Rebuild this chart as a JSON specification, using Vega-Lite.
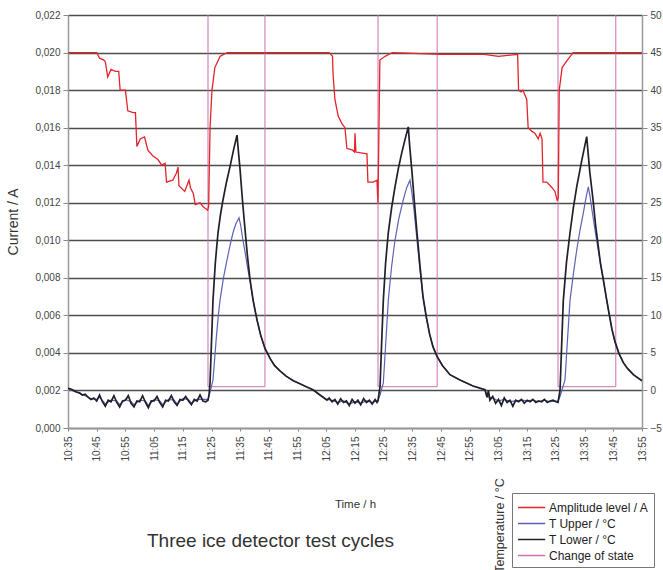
{
  "$schema": "https://vega.github.io/schema/vega-lite/v6.json",
  "width": 574,
  "height": 413,
  "autosize": {"type": "none"},
  "padding": {"left": 68, "top": 15, "right": 21, "bottom": 142},
  "title": {
    "text": "Three ice detector test cycles",
    "orient": "bottom",
    "anchor": "start",
    "offset": -40,
    "dx": 140,
    "fontSize": 19,
    "fontWeight": "normal",
    "color": "#333"
  },
  "data": {
    "values": [
      {"time": "2012-01-01T10:35:00", "series": "Change of state", "value": 0.024},
      {"time": "2012-01-01T11:23:47", "series": "Change of state", "value": 0.0022},
      {"time": "2012-01-01T11:43:38", "series": "Change of state", "value": 0.024},
      {"time": "2012-01-01T12:23:01", "series": "Change of state", "value": 0.0022},
      {"time": "2012-01-01T12:43:38", "series": "Change of state", "value": 0.024},
      {"time": "2012-01-01T13:25:44", "series": "Change of state", "value": 0.0022},
      {"time": "2012-01-01T13:45:52", "series": "Change of state", "value": 0.024},
      {"time": "2012-01-01T13:55:00", "series": "Change of state", "value": 0.024},

      {"time": "2012-01-01T10:35:00", "series": "Amplitude level / A", "value": 0.0200},
      {"time": "2012-01-01T10:45:00", "series": "Amplitude level / A", "value": 0.0200},
      {"time": "2012-01-01T10:46:00", "series": "Amplitude level / A", "value": 0.0197},
      {"time": "2012-01-01T10:47:30", "series": "Amplitude level / A", "value": 0.0196},
      {"time": "2012-01-01T10:48:00", "series": "Amplitude level / A", "value": 0.0195},
      {"time": "2012-01-01T10:48:50", "series": "Amplitude level / A", "value": 0.0187},
      {"time": "2012-01-01T10:50:00", "series": "Amplitude level / A", "value": 0.0191},
      {"time": "2012-01-01T10:51:30", "series": "Amplitude level / A", "value": 0.0190},
      {"time": "2012-01-01T10:52:40", "series": "Amplitude level / A", "value": 0.0190},
      {"time": "2012-01-01T10:53:10", "series": "Amplitude level / A", "value": 0.0180},
      {"time": "2012-01-01T10:55:00", "series": "Amplitude level / A", "value": 0.0180},
      {"time": "2012-01-01T10:55:50", "series": "Amplitude level / A", "value": 0.0169},
      {"time": "2012-01-01T10:57:40", "series": "Amplitude level / A", "value": 0.0168},
      {"time": "2012-01-01T10:58:30", "series": "Amplitude level / A", "value": 0.0168},
      {"time": "2012-01-01T10:59:00", "series": "Amplitude level / A", "value": 0.0150},
      {"time": "2012-01-01T11:00:10", "series": "Amplitude level / A", "value": 0.0154},
      {"time": "2012-01-01T11:01:40", "series": "Amplitude level / A", "value": 0.0155},
      {"time": "2012-01-01T11:02:50", "series": "Amplitude level / A", "value": 0.0148},
      {"time": "2012-01-01T11:04:30", "series": "Amplitude level / A", "value": 0.0145},
      {"time": "2012-01-01T11:06:20", "series": "Amplitude level / A", "value": 0.0143},
      {"time": "2012-01-01T11:07:40", "series": "Amplitude level / A", "value": 0.0140},
      {"time": "2012-01-01T11:08:50", "series": "Amplitude level / A", "value": 0.0141},
      {"time": "2012-01-01T11:09:20", "series": "Amplitude level / A", "value": 0.0131},
      {"time": "2012-01-01T11:11:30", "series": "Amplitude level / A", "value": 0.0132},
      {"time": "2012-01-01T11:12:50", "series": "Amplitude level / A", "value": 0.0136},
      {"time": "2012-01-01T11:13:20", "series": "Amplitude level / A", "value": 0.0139},
      {"time": "2012-01-01T11:13:40", "series": "Amplitude level / A", "value": 0.0129},
      {"time": "2012-01-01T11:15:40", "series": "Amplitude level / A", "value": 0.0126},
      {"time": "2012-01-01T11:17:10", "series": "Amplitude level / A", "value": 0.0132},
      {"time": "2012-01-01T11:17:40", "series": "Amplitude level / A", "value": 0.0128},
      {"time": "2012-01-01T11:18:40", "series": "Amplitude level / A", "value": 0.0125},
      {"time": "2012-01-01T11:19:20", "series": "Amplitude level / A", "value": 0.0119},
      {"time": "2012-01-01T11:21:00", "series": "Amplitude level / A", "value": 0.0120},
      {"time": "2012-01-01T11:22:00", "series": "Amplitude level / A", "value": 0.0118},
      {"time": "2012-01-01T11:23:40", "series": "Amplitude level / A", "value": 0.0116},
      {"time": "2012-01-01T11:24:00", "series": "Amplitude level / A", "value": 0.0118},
      {"time": "2012-01-01T11:24:30", "series": "Amplitude level / A", "value": 0.0160},
      {"time": "2012-01-01T11:25:10", "series": "Amplitude level / A", "value": 0.0180},
      {"time": "2012-01-01T11:26:10", "series": "Amplitude level / A", "value": 0.0192},
      {"time": "2012-01-01T11:28:00", "series": "Amplitude level / A", "value": 0.0198},
      {"time": "2012-01-01T11:30:30", "series": "Amplitude level / A", "value": 0.0200},
      {"time": "2012-01-01T12:06:00", "series": "Amplitude level / A", "value": 0.0200},
      {"time": "2012-01-01T12:07:10", "series": "Amplitude level / A", "value": 0.0198},
      {"time": "2012-01-01T12:07:20", "series": "Amplitude level / A", "value": 0.0189},
      {"time": "2012-01-01T12:08:00", "series": "Amplitude level / A", "value": 0.0175},
      {"time": "2012-01-01T12:09:10", "series": "Amplitude level / A", "value": 0.0166},
      {"time": "2012-01-01T12:10:30", "series": "Amplitude level / A", "value": 0.0162},
      {"time": "2012-01-01T12:11:30", "series": "Amplitude level / A", "value": 0.0160},
      {"time": "2012-01-01T12:12:10", "series": "Amplitude level / A", "value": 0.0149},
      {"time": "2012-01-01T12:14:10", "series": "Amplitude level / A", "value": 0.0148},
      {"time": "2012-01-01T12:14:50", "series": "Amplitude level / A", "value": 0.0147},
      {"time": "2012-01-01T12:15:00", "series": "Amplitude level / A", "value": 0.0157},
      {"time": "2012-01-01T12:15:20", "series": "Amplitude level / A", "value": 0.0147},
      {"time": "2012-01-01T12:19:10", "series": "Amplitude level / A", "value": 0.0146},
      {"time": "2012-01-01T12:19:30", "series": "Amplitude level / A", "value": 0.0131},
      {"time": "2012-01-01T12:21:20", "series": "Amplitude level / A", "value": 0.0131},
      {"time": "2012-01-01T12:22:40", "series": "Amplitude level / A", "value": 0.0132},
      {"time": "2012-01-01T12:22:50", "series": "Amplitude level / A", "value": 0.0125},
      {"time": "2012-01-01T12:23:00", "series": "Amplitude level / A", "value": 0.0120},
      {"time": "2012-01-01T12:23:40", "series": "Amplitude level / A", "value": 0.0196},
      {"time": "2012-01-01T12:25:30", "series": "Amplitude level / A", "value": 0.0198},
      {"time": "2012-01-01T12:28:00", "series": "Amplitude level / A", "value": 0.0200},
      {"time": "2012-01-01T12:45:00", "series": "Amplitude level / A", "value": 0.0199},
      {"time": "2012-01-01T13:00:00", "series": "Amplitude level / A", "value": 0.0199},
      {"time": "2012-01-01T13:05:00", "series": "Amplitude level / A", "value": 0.0198},
      {"time": "2012-01-01T13:11:40", "series": "Amplitude level / A", "value": 0.0199},
      {"time": "2012-01-01T13:12:00", "series": "Amplitude level / A", "value": 0.0180},
      {"time": "2012-01-01T13:12:50", "series": "Amplitude level / A", "value": 0.0179},
      {"time": "2012-01-01T13:13:30", "series": "Amplitude level / A", "value": 0.0180},
      {"time": "2012-01-01T13:14:50", "series": "Amplitude level / A", "value": 0.0175},
      {"time": "2012-01-01T13:15:20", "series": "Amplitude level / A", "value": 0.0160},
      {"time": "2012-01-01T13:16:40", "series": "Amplitude level / A", "value": 0.0158},
      {"time": "2012-01-01T13:17:40", "series": "Amplitude level / A", "value": 0.0157},
      {"time": "2012-01-01T13:18:50", "series": "Amplitude level / A", "value": 0.0154},
      {"time": "2012-01-01T13:19:30", "series": "Amplitude level / A", "value": 0.0157},
      {"time": "2012-01-01T13:20:10", "series": "Amplitude level / A", "value": 0.0154},
      {"time": "2012-01-01T13:20:30", "series": "Amplitude level / A", "value": 0.0131},
      {"time": "2012-01-01T13:21:50", "series": "Amplitude level / A", "value": 0.0131},
      {"time": "2012-01-01T13:23:40", "series": "Amplitude level / A", "value": 0.0128},
      {"time": "2012-01-01T13:24:40", "series": "Amplitude level / A", "value": 0.0126},
      {"time": "2012-01-01T13:25:30", "series": "Amplitude level / A", "value": 0.0121},
      {"time": "2012-01-01T13:25:50", "series": "Amplitude level / A", "value": 0.0123},
      {"time": "2012-01-01T13:26:10", "series": "Amplitude level / A", "value": 0.0180},
      {"time": "2012-01-01T13:27:10", "series": "Amplitude level / A", "value": 0.0192},
      {"time": "2012-01-01T13:29:00", "series": "Amplitude level / A", "value": 0.0196},
      {"time": "2012-01-01T13:31:00", "series": "Amplitude level / A", "value": 0.0200},
      {"time": "2012-01-01T13:55:00", "series": "Amplitude level / A", "value": 0.0200},

      {"time": "2012-01-01T10:35:00", "series": "T Upper / °C", "value": 0.2},
      {"time": "2012-01-01T10:37:00", "series": "T Upper / °C", "value": -0.1},
      {"time": "2012-01-01T10:39:00", "series": "T Upper / °C", "value": -0.4},
      {"time": "2012-01-01T10:41:00", "series": "T Upper / °C", "value": -0.7},
      {"time": "2012-01-01T10:43:00", "series": "T Upper / °C", "value": -1.1},
      {"time": "2012-01-01T10:45:00", "series": "T Upper / °C", "value": -1.2},
      {"time": "2012-01-01T10:46:00", "series": "T Upper / °C", "value": -0.9},
      {"time": "2012-01-01T10:48:00", "series": "T Upper / °C", "value": -1.8},
      {"time": "2012-01-01T10:50:00", "series": "T Upper / °C", "value": -1.3},
      {"time": "2012-01-01T10:52:00", "series": "T Upper / °C", "value": -1.4},
      {"time": "2012-01-01T10:53:00", "series": "T Upper / °C", "value": -1.9},
      {"time": "2012-01-01T10:55:00", "series": "T Upper / °C", "value": -1.2},
      {"time": "2012-01-01T10:57:00", "series": "T Upper / °C", "value": -1.5},
      {"time": "2012-01-01T10:58:00", "series": "T Upper / °C", "value": -1.9},
      {"time": "2012-01-01T11:00:00", "series": "T Upper / °C", "value": -1.3},
      {"time": "2012-01-01T11:02:00", "series": "T Upper / °C", "value": -1.4},
      {"time": "2012-01-01T11:03:00", "series": "T Upper / °C", "value": -2.0},
      {"time": "2012-01-01T11:05:00", "series": "T Upper / °C", "value": -1.2},
      {"time": "2012-01-01T11:07:00", "series": "T Upper / °C", "value": -1.4},
      {"time": "2012-01-01T11:08:00", "series": "T Upper / °C", "value": -1.9},
      {"time": "2012-01-01T11:10:00", "series": "T Upper / °C", "value": -1.2},
      {"time": "2012-01-01T11:12:00", "series": "T Upper / °C", "value": -1.3},
      {"time": "2012-01-01T11:13:00", "series": "T Upper / °C", "value": -1.8},
      {"time": "2012-01-01T11:15:00", "series": "T Upper / °C", "value": -1.1},
      {"time": "2012-01-01T11:17:00", "series": "T Upper / °C", "value": -1.2},
      {"time": "2012-01-01T11:18:00", "series": "T Upper / °C", "value": -1.7},
      {"time": "2012-01-01T11:20:00", "series": "T Upper / °C", "value": -1.2},
      {"time": "2012-01-01T11:22:00", "series": "T Upper / °C", "value": -1.2},
      {"time": "2012-01-01T11:23:47", "series": "T Upper / °C", "value": -1.2},
      {"time": "2012-01-01T11:24:40", "series": "T Upper / °C", "value": 0.0},
      {"time": "2012-01-01T11:25:31", "series": "T Upper / °C", "value": 1.4},
      {"time": "2012-01-01T11:26:10", "series": "T Upper / °C", "value": 4.5},
      {"time": "2012-01-01T11:26:40", "series": "T Upper / °C", "value": 7.0},
      {"time": "2012-01-01T11:27:20", "series": "T Upper / °C", "value": 9.8},
      {"time": "2012-01-01T11:27:58", "series": "T Upper / °C", "value": 12.0},
      {"time": "2012-01-01T11:29:10", "series": "T Upper / °C", "value": 15.0},
      {"time": "2012-01-01T11:30:24", "series": "T Upper / °C", "value": 17.4},
      {"time": "2012-01-01T11:31:30", "series": "T Upper / °C", "value": 19.4},
      {"time": "2012-01-01T11:32:29", "series": "T Upper / °C", "value": 21.0},
      {"time": "2012-01-01T11:33:30", "series": "T Upper / °C", "value": 22.2},
      {"time": "2012-01-01T11:34:35", "series": "T Upper / °C", "value": 23.0},
      {"time": "2012-01-01T11:35:10", "series": "T Upper / °C", "value": 22.0},
      {"time": "2012-01-01T11:35:45", "series": "T Upper / °C", "value": 20.5},
      {"time": "2012-01-01T11:36:40", "series": "T Upper / °C", "value": 18.5},
      {"time": "2012-01-01T11:37:30", "series": "T Upper / °C", "value": 16.5},
      {"time": "2012-01-01T11:38:25", "series": "T Upper / °C", "value": 14.6},
      {"time": "2012-01-01T11:39:30", "series": "T Upper / °C", "value": 12.0},
      {"time": "2012-01-01T11:40:51", "series": "T Upper / °C", "value": 9.4},
      {"time": "2012-01-01T11:42:10", "series": "T Upper / °C", "value": 7.3},
      {"time": "2012-01-01T11:43:38", "series": "T Upper / °C", "value": 5.6},
      {"time": "2012-01-01T11:45:30", "series": "T Upper / °C", "value": 4.2},
      {"time": "2012-01-01T11:47:00", "series": "T Upper / °C", "value": 3.3},
      {"time": "2012-01-01T11:48:52", "series": "T Upper / °C", "value": 2.6},
      {"time": "2012-01-01T11:51:00", "series": "T Upper / °C", "value": 1.9},
      {"time": "2012-01-01T11:53:30", "series": "T Upper / °C", "value": 1.3},
      {"time": "2012-01-01T11:55:50", "series": "T Upper / °C", "value": 0.9},
      {"time": "2012-01-01T11:58:00", "series": "T Upper / °C", "value": 0.5},
      {"time": "2012-01-01T12:00:22", "series": "T Upper / °C", "value": 0.1},
      {"time": "2012-01-01T12:02:48", "series": "T Upper / °C", "value": -0.6},
      {"time": "2012-01-01T12:05:14", "series": "T Upper / °C", "value": -1.2},
      {"time": "2012-01-01T12:07:00", "series": "T Upper / °C", "value": -1.3},
      {"time": "2012-01-01T12:09:00", "series": "T Upper / °C", "value": -1.6},
      {"time": "2012-01-01T12:11:00", "series": "T Upper / °C", "value": -1.4},
      {"time": "2012-01-01T12:13:00", "series": "T Upper / °C", "value": -1.8},
      {"time": "2012-01-01T12:15:00", "series": "T Upper / °C", "value": -1.5},
      {"time": "2012-01-01T12:17:00", "series": "T Upper / °C", "value": -1.7},
      {"time": "2012-01-01T12:19:00", "series": "T Upper / °C", "value": -1.4},
      {"time": "2012-01-01T12:21:00", "series": "T Upper / °C", "value": -1.6},
      {"time": "2012-01-01T12:23:01", "series": "T Upper / °C", "value": -1.3},
      {"time": "2012-01-01T12:23:43", "series": "T Upper / °C", "value": -0.6},
      {"time": "2012-01-01T12:24:52", "series": "T Upper / °C", "value": 1.0},
      {"time": "2012-01-01T12:25:40", "series": "T Upper / °C", "value": 6.0},
      {"time": "2012-01-01T12:26:36", "series": "T Upper / °C", "value": 12.0},
      {"time": "2012-01-01T12:27:45", "series": "T Upper / °C", "value": 16.5},
      {"time": "2012-01-01T12:28:56", "series": "T Upper / °C", "value": 20.0},
      {"time": "2012-01-01T12:30:20", "series": "T Upper / °C", "value": 23.0},
      {"time": "2012-01-01T12:31:50", "series": "T Upper / °C", "value": 25.4},
      {"time": "2012-01-01T12:33:00", "series": "T Upper / °C", "value": 27.0},
      {"time": "2012-01-01T12:34:10", "series": "T Upper / °C", "value": 28.0},
      {"time": "2012-01-01T12:34:52", "series": "T Upper / °C", "value": 26.2},
      {"time": "2012-01-01T12:35:34", "series": "T Upper / °C", "value": 24.0},
      {"time": "2012-01-01T12:36:36", "series": "T Upper / °C", "value": 20.0},
      {"time": "2012-01-01T12:37:40", "series": "T Upper / °C", "value": 16.0},
      {"time": "2012-01-01T12:38:41", "series": "T Upper / °C", "value": 12.5},
      {"time": "2012-01-01T12:39:50", "series": "T Upper / °C", "value": 9.8},
      {"time": "2012-01-01T12:41:00", "series": "T Upper / °C", "value": 7.5},
      {"time": "2012-01-01T12:42:11", "series": "T Upper / °C", "value": 5.8},
      {"time": "2012-01-01T12:43:38", "series": "T Upper / °C", "value": 4.5},
      {"time": "2012-01-01T12:45:30", "series": "T Upper / °C", "value": 3.3},
      {"time": "2012-01-01T12:48:06", "series": "T Upper / °C", "value": 2.1},
      {"time": "2012-01-01T12:51:35", "series": "T Upper / °C", "value": 1.4},
      {"time": "2012-01-01T12:56:07", "series": "T Upper / °C", "value": 0.6},
      {"time": "2012-01-01T13:00:17", "series": "T Upper / °C", "value": 0.1},
      {"time": "2012-01-01T13:01:00", "series": "T Upper / °C", "value": -0.8},
      {"time": "2012-01-01T13:03:00", "series": "T Upper / °C", "value": -1.0},
      {"time": "2012-01-01T13:05:00", "series": "T Upper / °C", "value": -1.4},
      {"time": "2012-01-01T13:07:00", "series": "T Upper / °C", "value": -1.2},
      {"time": "2012-01-01T13:09:00", "series": "T Upper / °C", "value": -1.5},
      {"time": "2012-01-01T13:11:00", "series": "T Upper / °C", "value": -1.4},
      {"time": "2012-01-01T13:13:00", "series": "T Upper / °C", "value": -1.3},
      {"time": "2012-01-01T13:15:00", "series": "T Upper / °C", "value": -1.4},
      {"time": "2012-01-01T13:17:00", "series": "T Upper / °C", "value": -1.3},
      {"time": "2012-01-01T13:19:00", "series": "T Upper / °C", "value": -1.5},
      {"time": "2012-01-01T13:21:00", "series": "T Upper / °C", "value": -1.3},
      {"time": "2012-01-01T13:23:00", "series": "T Upper / °C", "value": -1.5},
      {"time": "2012-01-01T13:25:44", "series": "T Upper / °C", "value": -1.4},
      {"time": "2012-01-01T13:26:26", "series": "T Upper / °C", "value": -0.8},
      {"time": "2012-01-01T13:28:10", "series": "T Upper / °C", "value": 1.4},
      {"time": "2012-01-01T13:29:00", "series": "T Upper / °C", "value": 6.5},
      {"time": "2012-01-01T13:29:55", "series": "T Upper / °C", "value": 12.0},
      {"time": "2012-01-01T13:31:05", "series": "T Upper / °C", "value": 15.5},
      {"time": "2012-01-01T13:32:15", "series": "T Upper / °C", "value": 18.7},
      {"time": "2012-01-01T13:33:25", "series": "T Upper / °C", "value": 21.4},
      {"time": "2012-01-01T13:34:33", "series": "T Upper / °C", "value": 23.6},
      {"time": "2012-01-01T13:35:25", "series": "T Upper / °C", "value": 25.5},
      {"time": "2012-01-01T13:36:17", "series": "T Upper / °C", "value": 27.1},
      {"time": "2012-01-01T13:36:55", "series": "T Upper / °C", "value": 25.8},
      {"time": "2012-01-01T13:37:35", "series": "T Upper / °C", "value": 24.0},
      {"time": "2012-01-01T13:38:58", "series": "T Upper / °C", "value": 20.5},
      {"time": "2012-01-01T13:40:22", "series": "T Upper / °C", "value": 17.3},
      {"time": "2012-01-01T13:41:25", "series": "T Upper / °C", "value": 15.0},
      {"time": "2012-01-01T13:42:30", "series": "T Upper / °C", "value": 12.5},
      {"time": "2012-01-01T13:43:30", "series": "T Upper / °C", "value": 10.3},
      {"time": "2012-01-01T13:44:30", "series": "T Upper / °C", "value": 8.2},
      {"time": "2012-01-01T13:45:35", "series": "T Upper / °C", "value": 6.5},
      {"time": "2012-01-01T13:47:00", "series": "T Upper / °C", "value": 4.9},
      {"time": "2012-01-01T13:48:30", "series": "T Upper / °C", "value": 3.7},
      {"time": "2012-01-01T13:50:00", "series": "T Upper / °C", "value": 2.9},
      {"time": "2012-01-01T13:52:00", "series": "T Upper / °C", "value": 2.1},
      {"time": "2012-01-01T13:55:00", "series": "T Upper / °C", "value": 1.3},

      {"time": "2012-01-01T10:35:00", "series": "T Lower / °C", "value": 0.3},
      {"time": "2012-01-01T10:36:00", "series": "T Lower / °C", "value": 0.2},
      {"time": "2012-01-01T10:37:00", "series": "T Lower / °C", "value": 0.0},
      {"time": "2012-01-01T10:38:00", "series": "T Lower / °C", "value": -0.2},
      {"time": "2012-01-01T10:39:00", "series": "T Lower / °C", "value": -0.3},
      {"time": "2012-01-01T10:40:00", "series": "T Lower / °C", "value": -0.6},
      {"time": "2012-01-01T10:41:00", "series": "T Lower / °C", "value": -0.5},
      {"time": "2012-01-01T10:42:00", "series": "T Lower / °C", "value": -0.9},
      {"time": "2012-01-01T10:43:00", "series": "T Lower / °C", "value": -1.2},
      {"time": "2012-01-01T10:44:00", "series": "T Lower / °C", "value": -1.0},
      {"time": "2012-01-01T10:45:00", "series": "T Lower / °C", "value": -1.4},
      {"time": "2012-01-01T10:46:00", "series": "T Lower / °C", "value": -0.6},
      {"time": "2012-01-01T10:47:00", "series": "T Lower / °C", "value": -1.5},
      {"time": "2012-01-01T10:48:00", "series": "T Lower / °C", "value": -2.1},
      {"time": "2012-01-01T10:49:00", "series": "T Lower / °C", "value": -1.3},
      {"time": "2012-01-01T10:50:00", "series": "T Lower / °C", "value": -1.5},
      {"time": "2012-01-01T10:51:00", "series": "T Lower / °C", "value": -0.7},
      {"time": "2012-01-01T10:52:00", "series": "T Lower / °C", "value": -1.6},
      {"time": "2012-01-01T10:53:00", "series": "T Lower / °C", "value": -2.2},
      {"time": "2012-01-01T10:54:00", "series": "T Lower / °C", "value": -1.4},
      {"time": "2012-01-01T10:55:00", "series": "T Lower / °C", "value": -1.3},
      {"time": "2012-01-01T10:56:00", "series": "T Lower / °C", "value": -0.7},
      {"time": "2012-01-01T10:57:00", "series": "T Lower / °C", "value": -1.7},
      {"time": "2012-01-01T10:58:00", "series": "T Lower / °C", "value": -2.2},
      {"time": "2012-01-01T10:59:00", "series": "T Lower / °C", "value": -1.4},
      {"time": "2012-01-01T11:00:00", "series": "T Lower / °C", "value": -1.5},
      {"time": "2012-01-01T11:01:00", "series": "T Lower / °C", "value": -0.7},
      {"time": "2012-01-01T11:02:00", "series": "T Lower / °C", "value": -1.6},
      {"time": "2012-01-01T11:03:00", "series": "T Lower / °C", "value": -2.3},
      {"time": "2012-01-01T11:04:00", "series": "T Lower / °C", "value": -1.4},
      {"time": "2012-01-01T11:05:00", "series": "T Lower / °C", "value": -1.4},
      {"time": "2012-01-01T11:06:00", "series": "T Lower / °C", "value": -0.8},
      {"time": "2012-01-01T11:07:00", "series": "T Lower / °C", "value": -1.6},
      {"time": "2012-01-01T11:08:00", "series": "T Lower / °C", "value": -2.2},
      {"time": "2012-01-01T11:09:00", "series": "T Lower / °C", "value": -1.3},
      {"time": "2012-01-01T11:10:00", "series": "T Lower / °C", "value": -1.4},
      {"time": "2012-01-01T11:11:00", "series": "T Lower / °C", "value": -0.7},
      {"time": "2012-01-01T11:12:00", "series": "T Lower / °C", "value": -1.5},
      {"time": "2012-01-01T11:13:00", "series": "T Lower / °C", "value": -2.0},
      {"time": "2012-01-01T11:14:00", "series": "T Lower / °C", "value": -1.2},
      {"time": "2012-01-01T11:15:00", "series": "T Lower / °C", "value": -1.3},
      {"time": "2012-01-01T11:16:00", "series": "T Lower / °C", "value": -0.8},
      {"time": "2012-01-01T11:17:00", "series": "T Lower / °C", "value": -1.4},
      {"time": "2012-01-01T11:18:00", "series": "T Lower / °C", "value": -1.9},
      {"time": "2012-01-01T11:19:00", "series": "T Lower / °C", "value": -1.2},
      {"time": "2012-01-01T11:20:00", "series": "T Lower / °C", "value": -1.4},
      {"time": "2012-01-01T11:21:00", "series": "T Lower / °C", "value": -0.6},
      {"time": "2012-01-01T11:22:00", "series": "T Lower / °C", "value": -1.4},
      {"time": "2012-01-01T11:23:00", "series": "T Lower / °C", "value": -1.5},
      {"time": "2012-01-01T11:23:47", "series": "T Lower / °C", "value": -1.3},
      {"time": "2012-01-01T11:24:10", "series": "T Lower / °C", "value": -0.5},
      {"time": "2012-01-01T11:24:29", "series": "T Lower / °C", "value": 1.0},
      {"time": "2012-01-01T11:25:00", "series": "T Lower / °C", "value": 6.5},
      {"time": "2012-01-01T11:25:31", "series": "T Lower / °C", "value": 12.0},
      {"time": "2012-01-01T11:26:20", "series": "T Lower / °C", "value": 17.0},
      {"time": "2012-01-01T11:27:16", "series": "T Lower / °C", "value": 21.0},
      {"time": "2012-01-01T11:28:10", "series": "T Lower / °C", "value": 23.5},
      {"time": "2012-01-01T11:29:01", "series": "T Lower / °C", "value": 25.4},
      {"time": "2012-01-01T11:30:15", "series": "T Lower / °C", "value": 27.8},
      {"time": "2012-01-01T11:31:27", "series": "T Lower / °C", "value": 29.8},
      {"time": "2012-01-01T11:32:40", "series": "T Lower / °C", "value": 32.0},
      {"time": "2012-01-01T11:33:53", "series": "T Lower / °C", "value": 34.0},
      {"time": "2012-01-01T11:34:23", "series": "T Lower / °C", "value": 31.8},
      {"time": "2012-01-01T11:34:56", "series": "T Lower / °C", "value": 29.5},
      {"time": "2012-01-01T11:35:45", "series": "T Lower / °C", "value": 25.5},
      {"time": "2012-01-01T11:36:40", "series": "T Lower / °C", "value": 21.5},
      {"time": "2012-01-01T11:37:30", "series": "T Lower / °C", "value": 18.0},
      {"time": "2012-01-01T11:38:25", "series": "T Lower / °C", "value": 14.8},
      {"time": "2012-01-01T11:39:30", "series": "T Lower / °C", "value": 12.0},
      {"time": "2012-01-01T11:40:51", "series": "T Lower / °C", "value": 9.4},
      {"time": "2012-01-01T11:42:10", "series": "T Lower / °C", "value": 7.3},
      {"time": "2012-01-01T11:43:38", "series": "T Lower / °C", "value": 5.6},
      {"time": "2012-01-01T11:45:30", "series": "T Lower / °C", "value": 4.2},
      {"time": "2012-01-01T11:47:00", "series": "T Lower / °C", "value": 3.3},
      {"time": "2012-01-01T11:48:52", "series": "T Lower / °C", "value": 2.6},
      {"time": "2012-01-01T11:51:00", "series": "T Lower / °C", "value": 1.9},
      {"time": "2012-01-01T11:53:30", "series": "T Lower / °C", "value": 1.3},
      {"time": "2012-01-01T11:55:50", "series": "T Lower / °C", "value": 0.9},
      {"time": "2012-01-01T11:58:00", "series": "T Lower / °C", "value": 0.5},
      {"time": "2012-01-01T12:00:22", "series": "T Lower / °C", "value": 0.1},
      {"time": "2012-01-01T12:02:48", "series": "T Lower / °C", "value": -0.6},
      {"time": "2012-01-01T12:05:14", "series": "T Lower / °C", "value": -1.3},
      {"time": "2012-01-01T12:06:00", "series": "T Lower / °C", "value": -1.0},
      {"time": "2012-01-01T12:07:00", "series": "T Lower / °C", "value": -1.5},
      {"time": "2012-01-01T12:08:00", "series": "T Lower / °C", "value": -1.2},
      {"time": "2012-01-01T12:09:00", "series": "T Lower / °C", "value": -1.8},
      {"time": "2012-01-01T12:10:00", "series": "T Lower / °C", "value": -1.1},
      {"time": "2012-01-01T12:11:00", "series": "T Lower / °C", "value": -1.6},
      {"time": "2012-01-01T12:12:00", "series": "T Lower / °C", "value": -1.4},
      {"time": "2012-01-01T12:13:00", "series": "T Lower / °C", "value": -2.0},
      {"time": "2012-01-01T12:14:00", "series": "T Lower / °C", "value": -1.2},
      {"time": "2012-01-01T12:15:00", "series": "T Lower / °C", "value": -1.7},
      {"time": "2012-01-01T12:16:00", "series": "T Lower / °C", "value": -1.3},
      {"time": "2012-01-01T12:17:00", "series": "T Lower / °C", "value": -1.9},
      {"time": "2012-01-01T12:18:00", "series": "T Lower / °C", "value": -1.1},
      {"time": "2012-01-01T12:19:00", "series": "T Lower / °C", "value": -1.6},
      {"time": "2012-01-01T12:20:00", "series": "T Lower / °C", "value": -1.3},
      {"time": "2012-01-01T12:21:00", "series": "T Lower / °C", "value": -1.8},
      {"time": "2012-01-01T12:22:00", "series": "T Lower / °C", "value": -1.2},
      {"time": "2012-01-01T12:22:40", "series": "T Lower / °C", "value": -1.6},
      {"time": "2012-01-01T12:23:01", "series": "T Lower / °C", "value": -1.4},
      {"time": "2012-01-01T12:23:20", "series": "T Lower / °C", "value": -0.5},
      {"time": "2012-01-01T12:23:43", "series": "T Lower / °C", "value": 0.5},
      {"time": "2012-01-01T12:24:15", "series": "T Lower / °C", "value": 6.0},
      {"time": "2012-01-01T12:24:52", "series": "T Lower / °C", "value": 12.0},
      {"time": "2012-01-01T12:25:40", "series": "T Lower / °C", "value": 17.0},
      {"time": "2012-01-01T12:26:36", "series": "T Lower / °C", "value": 21.0},
      {"time": "2012-01-01T12:27:45", "series": "T Lower / °C", "value": 24.3},
      {"time": "2012-01-01T12:28:56", "series": "T Lower / °C", "value": 27.1},
      {"time": "2012-01-01T12:30:05", "series": "T Lower / °C", "value": 29.5},
      {"time": "2012-01-01T12:31:16", "series": "T Lower / °C", "value": 31.6},
      {"time": "2012-01-01T12:32:25", "series": "T Lower / °C", "value": 33.4},
      {"time": "2012-01-01T12:33:34", "series": "T Lower / °C", "value": 35.1},
      {"time": "2012-01-01T12:34:00", "series": "T Lower / °C", "value": 32.8},
      {"time": "2012-01-01T12:34:52", "series": "T Lower / °C", "value": 29.0},
      {"time": "2012-01-01T12:35:45", "series": "T Lower / °C", "value": 24.8},
      {"time": "2012-01-01T12:36:36", "series": "T Lower / °C", "value": 21.0},
      {"time": "2012-01-01T12:37:40", "series": "T Lower / °C", "value": 16.5},
      {"time": "2012-01-01T12:38:41", "series": "T Lower / °C", "value": 12.5},
      {"time": "2012-01-01T12:39:50", "series": "T Lower / °C", "value": 9.8},
      {"time": "2012-01-01T12:41:00", "series": "T Lower / °C", "value": 7.5},
      {"time": "2012-01-01T12:42:11", "series": "T Lower / °C", "value": 5.8},
      {"time": "2012-01-01T12:43:38", "series": "T Lower / °C", "value": 4.5},
      {"time": "2012-01-01T12:45:30", "series": "T Lower / °C", "value": 3.3},
      {"time": "2012-01-01T12:48:06", "series": "T Lower / °C", "value": 2.1},
      {"time": "2012-01-01T12:51:35", "series": "T Lower / °C", "value": 1.4},
      {"time": "2012-01-01T12:56:07", "series": "T Lower / °C", "value": 0.6},
      {"time": "2012-01-01T13:00:17", "series": "T Lower / °C", "value": 0.1},
      {"time": "2012-01-01T13:01:00", "series": "T Lower / °C", "value": -0.9},
      {"time": "2012-01-01T13:01:30", "series": "T Lower / °C", "value": 0.0},
      {"time": "2012-01-01T13:02:00", "series": "T Lower / °C", "value": -1.3},
      {"time": "2012-01-01T13:03:00", "series": "T Lower / °C", "value": -0.8},
      {"time": "2012-01-01T13:04:00", "series": "T Lower / °C", "value": -1.7},
      {"time": "2012-01-01T13:05:00", "series": "T Lower / °C", "value": -1.2},
      {"time": "2012-01-01T13:06:00", "series": "T Lower / °C", "value": -2.0},
      {"time": "2012-01-01T13:07:00", "series": "T Lower / °C", "value": -1.0},
      {"time": "2012-01-01T13:08:00", "series": "T Lower / °C", "value": -1.6},
      {"time": "2012-01-01T13:09:00", "series": "T Lower / °C", "value": -1.3},
      {"time": "2012-01-01T13:10:00", "series": "T Lower / °C", "value": -2.1},
      {"time": "2012-01-01T13:11:00", "series": "T Lower / °C", "value": -1.3},
      {"time": "2012-01-01T13:12:00", "series": "T Lower / °C", "value": -1.5},
      {"time": "2012-01-01T13:13:00", "series": "T Lower / °C", "value": -1.2},
      {"time": "2012-01-01T13:14:00", "series": "T Lower / °C", "value": -1.7},
      {"time": "2012-01-01T13:15:00", "series": "T Lower / °C", "value": -1.3},
      {"time": "2012-01-01T13:16:00", "series": "T Lower / °C", "value": -1.5},
      {"time": "2012-01-01T13:17:00", "series": "T Lower / °C", "value": -1.2},
      {"time": "2012-01-01T13:18:00", "series": "T Lower / °C", "value": -1.6},
      {"time": "2012-01-01T13:19:00", "series": "T Lower / °C", "value": -1.4},
      {"time": "2012-01-01T13:20:00", "series": "T Lower / °C", "value": -1.5},
      {"time": "2012-01-01T13:21:00", "series": "T Lower / °C", "value": -1.2},
      {"time": "2012-01-01T13:22:00", "series": "T Lower / °C", "value": -1.6},
      {"time": "2012-01-01T13:23:00", "series": "T Lower / °C", "value": -1.4},
      {"time": "2012-01-01T13:24:00", "series": "T Lower / °C", "value": -1.3},
      {"time": "2012-01-01T13:25:00", "series": "T Lower / °C", "value": -1.5},
      {"time": "2012-01-01T13:25:44", "series": "T Lower / °C", "value": -1.6},
      {"time": "2012-01-01T13:26:05", "series": "T Lower / °C", "value": -0.8},
      {"time": "2012-01-01T13:26:26", "series": "T Lower / °C", "value": 0.0},
      {"time": "2012-01-01T13:27:00", "series": "T Lower / °C", "value": 6.0},
      {"time": "2012-01-01T13:27:35", "series": "T Lower / °C", "value": 12.0},
      {"time": "2012-01-01T13:28:40", "series": "T Lower / °C", "value": 17.0},
      {"time": "2012-01-01T13:29:55", "series": "T Lower / °C", "value": 21.0},
      {"time": "2012-01-01T13:31:05", "series": "T Lower / °C", "value": 24.3},
      {"time": "2012-01-01T13:32:15", "series": "T Lower / °C", "value": 27.1},
      {"time": "2012-01-01T13:34:00", "series": "T Lower / °C", "value": 30.6},
      {"time": "2012-01-01T13:35:44", "series": "T Lower / °C", "value": 33.8},
      {"time": "2012-01-01T13:36:15", "series": "T Lower / °C", "value": 31.5},
      {"time": "2012-01-01T13:36:50", "series": "T Lower / °C", "value": 29.0},
      {"time": "2012-01-01T13:37:56", "series": "T Lower / °C", "value": 25.4},
      {"time": "2012-01-01T13:38:50", "series": "T Lower / °C", "value": 22.0},
      {"time": "2012-01-01T13:39:40", "series": "T Lower / °C", "value": 19.5},
      {"time": "2012-01-01T13:40:30", "series": "T Lower / °C", "value": 17.0},
      {"time": "2012-01-01T13:41:25", "series": "T Lower / °C", "value": 15.0},
      {"time": "2012-01-01T13:42:30", "series": "T Lower / °C", "value": 12.5},
      {"time": "2012-01-01T13:43:30", "series": "T Lower / °C", "value": 10.3},
      {"time": "2012-01-01T13:44:30", "series": "T Lower / °C", "value": 8.2},
      {"time": "2012-01-01T13:45:35", "series": "T Lower / °C", "value": 6.5},
      {"time": "2012-01-01T13:47:00", "series": "T Lower / °C", "value": 4.9},
      {"time": "2012-01-01T13:48:30", "series": "T Lower / °C", "value": 3.7},
      {"time": "2012-01-01T13:50:00", "series": "T Lower / °C", "value": 2.9},
      {"time": "2012-01-01T13:52:00", "series": "T Lower / °C", "value": 2.1},
      {"time": "2012-01-01T13:55:00", "series": "T Lower / °C", "value": 1.3}
    ]
  },
  "encoding": {
    "x": {
      "field": "time",
      "type": "temporal",
      "scale": {
        "domain": [
          {"year": 2012, "month": 1, "date": 1, "hours": 10, "minutes": 35},
          {"year": 2012, "month": 1, "date": 1, "hours": 13, "minutes": 55}
        ],
        "nice": false
      },
      "axis": {
        "values": [
          {"year": 2012, "month": 1, "date": 1, "hours": 10, "minutes": 35},
          {"year": 2012, "month": 1, "date": 1, "hours": 10, "minutes": 45},
          {"year": 2012, "month": 1, "date": 1, "hours": 10, "minutes": 55},
          {"year": 2012, "month": 1, "date": 1, "hours": 11, "minutes": 5},
          {"year": 2012, "month": 1, "date": 1, "hours": 11, "minutes": 15},
          {"year": 2012, "month": 1, "date": 1, "hours": 11, "minutes": 25},
          {"year": 2012, "month": 1, "date": 1, "hours": 11, "minutes": 35},
          {"year": 2012, "month": 1, "date": 1, "hours": 11, "minutes": 45},
          {"year": 2012, "month": 1, "date": 1, "hours": 11, "minutes": 55},
          {"year": 2012, "month": 1, "date": 1, "hours": 12, "minutes": 5},
          {"year": 2012, "month": 1, "date": 1, "hours": 12, "minutes": 15},
          {"year": 2012, "month": 1, "date": 1, "hours": 12, "minutes": 25},
          {"year": 2012, "month": 1, "date": 1, "hours": 12, "minutes": 35},
          {"year": 2012, "month": 1, "date": 1, "hours": 12, "minutes": 45},
          {"year": 2012, "month": 1, "date": 1, "hours": 12, "minutes": 55},
          {"year": 2012, "month": 1, "date": 1, "hours": 13, "minutes": 5},
          {"year": 2012, "month": 1, "date": 1, "hours": 13, "minutes": 15},
          {"year": 2012, "month": 1, "date": 1, "hours": 13, "minutes": 25},
          {"year": 2012, "month": 1, "date": 1, "hours": 13, "minutes": 35},
          {"year": 2012, "month": 1, "date": 1, "hours": 13, "minutes": 45},
          {"year": 2012, "month": 1, "date": 1, "hours": 13, "minutes": 55}
        ],
        "format": "%H:%M",
        "labelAngle": 270,
        "labelOverlap": false,
        "labelFlush": false,
        "grid": false,
        "tickSize": 3,
        "tickColor": "#888",
        "domainColor": "#999",
        "domainWidth": 1.5,
        "labelFontSize": 10,
        "labelColor": "#444",
        "labelPadding": 5,
        "title": "Time / h",
        "titleFontSize": 11.5,
        "titleFontWeight": "normal",
        "titleColor": "#333",
        "titlePadding": 37
      }
    },
    "color": {
      "field": "series",
      "type": "nominal",
      "scale": {
        "domain": ["Amplitude level / A", "T Upper / °C", "T Lower / °C", "Change of state"],
        "range": ["#e3242b", "#5d63b3", "#20202a", "#cf6fae"]
      },
      "legend": {
        "orient": "none",
        "legendX": 444,
        "legendY": 478,
        "title": null,
        "direction": "vertical",
        "strokeColor": "#777",
        "fillColor": "white",
        "padding": 5,
        "labelFontSize": 12,
        "labelColor": "#222",
        "labelOffset": 13,
        "symbolType": "M-1,0H2.2",
        "symbolSize": 289,
        "symbolStrokeWidth": 1.5,
        "rowPadding": 0
      }
    }
  },
  "layer": [
    {
      "transform": [{"filter": "datum.series == 'Change of state' || datum.series == 'Amplitude level / A'"}],
      "encoding": {
        "y": {
          "field": "value",
          "type": "quantitative",
          "scale": {"domain": [0, 0.022], "nice": false, "zero": false},
          "axis": {
            "orient": "left",
            "values": [0, 0.002, 0.004, 0.006, 0.008, 0.01, 0.012, 0.014, 0.016, 0.018, 0.02, 0.022],
            "format": ".3f",
            "grid": true,
            "gridColor": "#4d4d4d",
            "gridWidth": 1.3,
            "domainColor": "#999",
            "domainWidth": 1.5,
            "tickColor": "#888",
            "tickSize": 5,
            "labelFontSize": 10,
            "labelColor": "#444",
            "labelPadding": 3,
            "title": "Current / A",
            "titleFontSize": 14,
            "titleFontWeight": "normal",
            "titleColor": "#333",
            "titlePadding": 14
          }
        }
      },
      "layer": [
        {
          "transform": [{"filter": "datum.series == 'Change of state'"}],
          "mark": {"type": "line", "interpolate": "step-after", "strokeWidth": 1, "clip": true},
          "encoding": {}
        },
        {
          "transform": [{"filter": "datum.series == 'Amplitude level / A'"}],
          "mark": {"type": "line", "strokeWidth": 1.3, "clip": true},
          "encoding": {}
        }
      ]
    },
    {
      "transform": [{"filter": "datum.series == 'T Upper / °C' || datum.series == 'T Lower / °C'"}],
      "encoding": {
        "y": {
          "field": "value",
          "type": "quantitative",
          "scale": {"domain": [-5, 50], "nice": false, "zero": false},
          "axis": {
            "orient": "right",
            "values": [-5, 0, 5, 10, 15, 20, 25, 30, 35, 40, 45, 50],
            "grid": false,
            "domainColor": "#999",
            "domainWidth": 1.5,
            "tickColor": "#888",
            "tickSize": 5,
            "labelFontSize": 10,
            "labelColor": "#444",
            "labelPadding": 3,
            "title": "Temperature / °C",
            "titleFontSize": 12.5,
            "titleFontWeight": "normal",
            "titleColor": "#333",
            "titleAngle": 270,
            "titleX": -136,
            "titleY": 510
          }
        }
      },
      "layer": [
        {
          "transform": [{"filter": "datum.series == 'T Upper / °C'"}],
          "mark": {"type": "line", "strokeWidth": 1.2, "clip": true},
          "encoding": {}
        },
        {
          "transform": [{"filter": "datum.series == 'T Lower / °C'"}],
          "mark": {"type": "line", "strokeWidth": 1.7, "clip": true},
          "encoding": {}
        }
      ]
    }
  ],
  "resolve": {"scale": {"y": "independent"}},
  "config": {
    "font": "Liberation Sans",
    "view": {"stroke": null},
    "background": "white",
    "locale": {
      "number": {"decimal": ",", "thousands": ".", "grouping": [3], "currency": ["", " €"]}
    }
  }
}
